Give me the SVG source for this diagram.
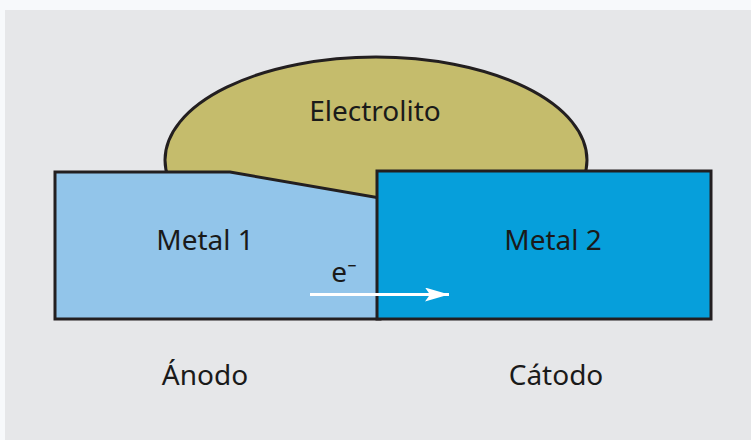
<svg xmlns="http://www.w3.org/2000/svg" width="751" height="440" viewBox="0 0 751 440">
<style>
.ol{stroke:#231f20;stroke-width:3;stroke-linejoin:miter}
.t{font-family:"Noto Sans","Open Sans",sans-serif;font-size:28px;fill:#1a1a1a}
</style>
<defs>
<marker id="ah" viewBox="0 0 24 14" refX="24" refY="7" markerWidth="24" markerHeight="14" markerUnits="userSpaceOnUse" orient="auto">
<path d="M0,0 L24,7 L0,14 L5,7 Z" fill="#ffffff"/>
</marker>
</defs>
<rect x="0" y="0" width="751" height="440" fill="#f7f9fb"/>
<rect x="5" y="10" width="746" height="430" fill="#e6e7e9"/>
<g id="electrolito">
<ellipse cx="376" cy="160" rx="211" ry="103" fill="#c5bc6c" class="ol"/>
<text class="t" x="375" y="121" text-anchor="middle">Electrolito</text>
</g>
<g id="metal1">
<polygon points="55,172 230,172 380,198 380,319 55,319" fill="#92c5ea" class="ol"/>
<text class="t" x="205" y="250" text-anchor="middle">Metal 1</text>
</g>
<g id="metal2">
<rect x="377" y="171" width="334" height="148" fill="#069fdb" class="ol"/>
<text class="t" x="553" y="250" text-anchor="middle">Metal 2</text>
</g>
<g id="labels">
<text class="t" x="205" y="385" text-anchor="middle">Ánodo</text>
<text class="t" x="556" y="385" text-anchor="middle">Cátodo</text>
<text class="t" x="344" y="282" text-anchor="middle">e⁻</text>
</g>
<g id="connectors">
<line x1="310" y1="294.5" x2="449" y2="294.5" stroke="#ffffff" stroke-width="3" marker-end="url(#ah)"/>
</g>
</svg>
